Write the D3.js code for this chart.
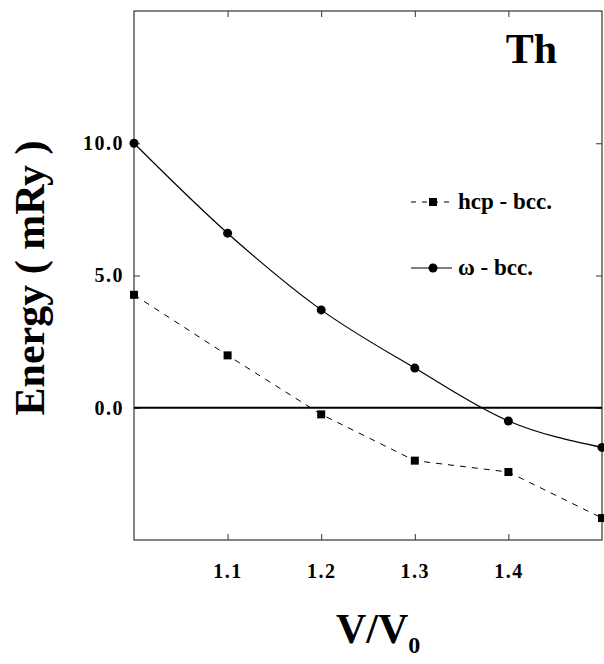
<!DOCTYPE html>
<html lang="en">
<head>
    <meta charset="UTF-8">
    <title>Th energy differences</title>
    <script src="https://d3js.org/d3.v7.min.js"></script>
    <style>
        body {
            margin: 0;
            background: #fff;
        }
        svg {
            display: block;
        }
        text {
            font-family: "Liberation Serif", "Times New Roman", serif;
            font-weight: bold;
            fill: #000;
        }
        .tick text {
            font-size: 20px;
            letter-spacing: 1.5px;
        }
        .tick line {
            stroke: #333;
        }
        path.domain {
            display: none;
        }
    </style>
</head>
<body>
<script>
    // values
    var volumes = [1.0, 1.1, 1.2, 1.3, 1.4, 1.5];
    var hcpBcc = [4.27, 1.98, -0.25, -2.0, -2.43, -4.17];
    var omegaBcc = [10.0, 6.6, 3.7, 1.5, -0.5, -1.5];
    var xTicks = [1.1, 1.2, 1.3, 1.4];
    var yTicks = [0, 5, 10];

    var width = 604;
    var height = 664;
    var plot = {left: 134, right: 602, top: 11, bottom: 540};

    var svg = d3.select("body").append("svg")
            .attr("width", width)
            .attr("height", height);

    var xScale = d3.scaleLinear()
            .domain([1.0, 1.5])
            .range([plot.left, plot.right]);
    var yScale = d3.scaleLinear()
            .domain([-5, 15])
            .range([plot.bottom, plot.top]);

    // axes, ticks pointing inward
    var xAxis = d3.axisBottom(xScale)
            .tickValues(xTicks)
            .tickFormat(d3.format(".1f"))
            .tickSize(-6)
            .tickPadding(24);
    var yAxis = d3.axisLeft(yScale)
            .tickValues(yTicks)
            .tickFormat(d3.format(".1f"))
            .tickSize(-6)
            .tickPadding(10);

    svg.append("g")
            .attr("transform", "translate(0," + plot.bottom + ")")
            .call(xAxis);
    svg.append("g")
            .attr("transform", "translate(" + plot.left + ",0)")
            .call(yAxis);

    // top and right ticks
    svg.append("g")
            .attr("transform", "translate(0," + plot.top + ")")
            .call(d3.axisTop(xScale).tickValues(xTicks).tickSize(-6).tickFormat(""));
    svg.append("g")
            .attr("transform", "translate(" + plot.right + ",0)")
            .call(d3.axisRight(yScale).tickValues(yTicks).tickSize(-6).tickFormat(""));

    // frame
    svg.append("rect")
            .attr("x", plot.left)
            .attr("y", plot.top)
            .attr("width", plot.right - plot.left)
            .attr("height", plot.bottom - plot.top)
            .attr("fill", "none")
            .attr("stroke", "#333")
            .attr("stroke-width", 1.2);

    // zero line
    svg.append("line")
            .attr("x1", plot.left).attr("x2", plot.right)
            .attr("y1", yScale(0)).attr("y2", yScale(0))
            .attr("stroke", "#000")
            .attr("stroke-width", 2.2);

    var hcpData = volumes.map(function (v, i) {
        return {x: v, y: hcpBcc[i]};
    });
    var omegaData = volumes.map(function (v, i) {
        return {x: v, y: omegaBcc[i]};
    });

    var lineLinear = d3.line()
            .x(function (d) { return xScale(d.x); })
            .y(function (d) { return yScale(d.y); });
    var lineSmooth = d3.line()
            .curve(d3.curveMonotoneX)
            .x(function (d) { return xScale(d.x); })
            .y(function (d) { return yScale(d.y); });

    svg.append("path")
            .datum(hcpData)
            .attr("d", lineLinear)
            .attr("fill", "none")
            .attr("stroke", "#000")
            .attr("stroke-width", 1)
            .attr("stroke-dasharray", "6,6");

    svg.append("path")
            .datum(omegaData)
            .attr("d", lineSmooth)
            .attr("fill", "none")
            .attr("stroke", "#000")
            .attr("stroke-width", 1.2);

    svg.selectAll(".sq")
            .data(hcpData)
            .enter()
            .append("rect")
            .attr("class", "sq")
            .attr("x", function (d) { return xScale(d.x) - 4; })
            .attr("y", function (d) { return yScale(d.y) - 4; })
            .attr("width", 8)
            .attr("height", 8)
            .attr("fill", "#000");

    svg.selectAll(".dot")
            .data(omegaData)
            .enter()
            .append("circle")
            .attr("class", "dot")
            .attr("cx", function (d) { return xScale(d.x); })
            .attr("cy", function (d) { return yScale(d.y); })
            .attr("r", 4.5)
            .attr("fill", "#000");

    // legend
    var legend = svg.append("g");
    legend.append("line")
            .attr("x1", 411).attr("x2", 450)
            .attr("y1", 202).attr("y2", 202)
            .attr("stroke", "#000")
            .attr("stroke-dasharray", "5,6");
    legend.append("rect")
            .attr("x", 429).attr("y", 198)
            .attr("width", 8).attr("height", 8)
            .attr("fill", "#000");
    legend.append("text")
            .attr("x", 458).attr("y", 209)
            .attr("font-size", 23)
            .text("hcp - bcc.");

    legend.append("line")
            .attr("x1", 411).attr("x2", 452)
            .attr("y1", 268).attr("y2", 268)
            .attr("stroke", "#000");
    legend.append("circle")
            .attr("cx", 433).attr("cy", 268)
            .attr("r", 4.5)
            .attr("fill", "#000");
    legend.append("text")
            .attr("x", 458).attr("y", 275)
            .attr("font-size", 23)
            .text("\u03c9 - bcc.");

    // element label
    svg.append("text")
            .attr("x", 557).attr("y", 63)
            .attr("text-anchor", "end")
            .attr("font-size", 42)
            .text("Th");

    // axis titles
    svg.append("text")
            .attr("transform", "translate(44,278) rotate(-90)")
            .attr("text-anchor", "middle")
            .attr("font-size", 42)
            .text("Energy ( mRy )");

    var xTitle = svg.append("text")
            .attr("x", 336).attr("y", 643)
            .attr("font-size", 42);
    xTitle.append("tspan").text("V/V");
    xTitle.append("tspan")
            .attr("dy", 10)
            .attr("font-size", 24)
            .text("0");
</script>
</body>
</html>
